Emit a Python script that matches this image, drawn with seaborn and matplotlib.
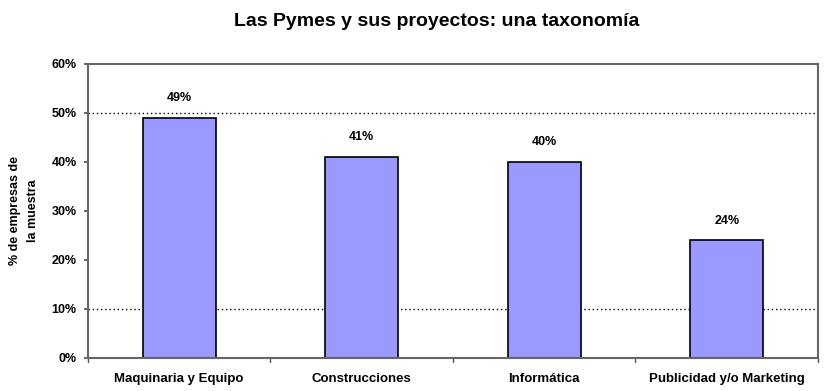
import matplotlib
matplotlib.use("Agg")
import matplotlib.pyplot as plt
import seaborn as sns
import pandas as pd

categories = ["Maquinaria y Equipo", "Construcciones", "Informática", "Publicidad y/o Marketing"]
values = [49, 41, 40, 24]
value_labels = ["49%", "41%", "40%", "24%"]
yticks = [0, 10, 20, 30, 40, 50, 60]
ytick_labels = ["0%", "10%", "20%", "30%", "40%", "50%", "60%"]
dotted_lines = [10, 50]
title = "Las Pymes y sus proyectos: una taxonomía"
ylabel = "% de empresas de\nla muestra"

sns.set_theme(style="white")
plt.rcParams['font.family'] = ['Liberation Sans', 'DejaVu Sans']
plt.rcParams.update({"text.color": "black", "axes.labelcolor": "black",
                     "xtick.color": "black", "ytick.color": "black"})

df = pd.DataFrame({"cat": categories, "val": values})

fig = plt.figure(figsize=(8.28, 3.91), dpi=100)
ax = fig.add_axes([0.106, 0.0844, 0.882, 0.752])

sns.barplot(data=df, x="cat", y="val", ax=ax, color="#9999FF", width=0.4,
            edgecolor="black", linewidth=1.2, saturation=1)

ax.set_ylim(0, 60)
ax.set_xlim(-0.5, len(categories) - 0.5)
ax.set_yticks(yticks)
ax.set_yticklabels(ytick_labels, fontsize=9, fontweight="bold")
ax.set_xticks(range(len(categories)))
ax.set_xticklabels(categories, fontsize=9.5, fontweight="bold")
ax.tick_params(axis="x", length=0, pad=11)
ax.tick_params(axis="y", length=3, pad=5, left=True, color="#555555")
ax.set_xlabel("")
ax.set_ylabel(ylabel, fontsize=9, fontweight="bold", labelpad=9, linespacing=1.7)

for y in dotted_lines:
    ax.axhline(y, color="black", linestyle=(0, (1, 2)), linewidth=1.0, zorder=0.5)

for i in range(len(categories) + 1):
    ax.plot([i - 0.5, i - 0.5], [0, -0.8], color="#555555", lw=1, clip_on=False)

for i, (v, lab) in enumerate(zip(values, value_labels)):
    ax.text(i, v + 2.8, lab, ha="center", va="bottom", fontsize=9, fontweight="bold")

for s in ax.spines.values():
    s.set_color("#666666")
    s.set_linewidth(1.5)

fig.text(0.527, 0.944, title, ha="center", va="center", fontsize=14, fontweight="bold")

fig.savefig("out.png", dpi=100, facecolor="white")
